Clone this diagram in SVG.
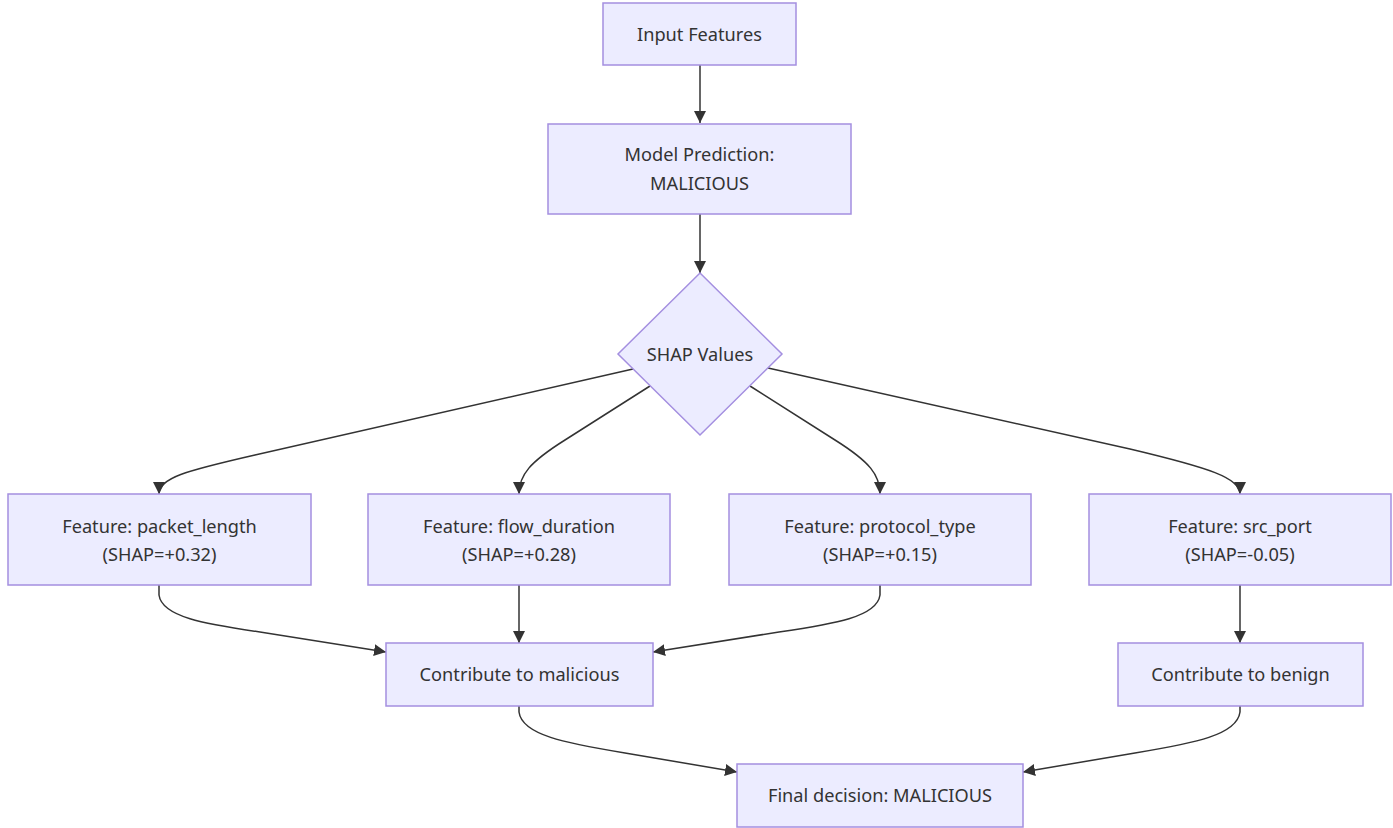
<svg xmlns="http://www.w3.org/2000/svg" width="1393" height="828" viewBox="0 0 1393 828">
  <defs>
    <style>
      .node rect, .node polygon { fill: #ECECFF; stroke: #A48FE0; stroke-width: 1.5; }
      .node text { font-family: "Noto Sans", "DejaVu Sans", sans-serif; font-size: 18.2px; fill: #333333; text-anchor: middle; dominant-baseline: central; }
      .edges path { fill: none; stroke: #333333; stroke-width: 1.5; marker-end: url(#arrow); }
    </style>
    <marker id="arrow" viewBox="0 0 10 10" refX="10" refY="5" markerWidth="8" markerHeight="8" markerUnits="strokeWidth" orient="auto">
      <path d="M0,0 L10,5 L0,10 z" fill="#333333"/>
    </marker>
  </defs>
  <rect width="1393" height="828" fill="#ffffff"/>

  <!-- connectors -->
  <g class="edges">
    <path d="M700,65 L700,123"/>
    <path d="M700,214 L700,273"/>
    <path d="M633,369 L255,455 C185,471 159,478 159,494"/>
    <path d="M650,386 L565,440 C530,462 519,475 519,494"/>
    <path d="M750,386 L835,440 C870,462 880,475 880,494"/>
    <path d="M768,368 L1130,449 C1210,468 1240,478 1240,494"/>
    <path d="M159,585 L159,595 C162,617 205,624 260,632 L386,652"/>
    <path d="M519,585 L519,643"/>
    <path d="M880,585 L880,595 C877,617 834,624 779,632 L653,652"/>
    <path d="M1240,585 L1240,643"/>
    <path d="M519,706 L519,712 C522,735 565,743 625,753 L737,772"/>
    <path d="M1240,706 L1240,712 C1237,735 1195,743 1135,753 L1023,772"/>
  </g>

  <g id="input" class="node">
    <rect x="603" y="3" width="193" height="62"/>
    <text x="699.5" y="34">Input Features</text>
  </g>
  <g id="prediction" class="node">
    <rect x="548" y="124" width="303" height="90"/>
    <text x="699.5" y="154">Model Prediction:</text>
    <text x="699.5" y="183">MALICIOUS</text>
  </g>
  <g id="shap" class="node">
    <polygon points="700,273 782,354 700,435 618,354"/>
    <text x="700" y="354">SHAP Values</text>
  </g>
  <g id="packet_length" class="node">
    <rect x="8" y="494" width="303" height="91"/>
    <text x="159.5" y="526">Feature: packet_length</text>
    <text x="159.5" y="554">(SHAP=+0.32)</text>
  </g>
  <g id="flow_duration" class="node">
    <rect x="368" y="494" width="302" height="91"/>
    <text x="519" y="526">Feature: flow_duration</text>
    <text x="519" y="554">(SHAP=+0.28)</text>
  </g>
  <g id="protocol_type" class="node">
    <rect x="729" y="494" width="302" height="91"/>
    <text x="880" y="526">Feature: protocol_type</text>
    <text x="880" y="554">(SHAP=+0.15)</text>
  </g>
  <g id="src_port" class="node">
    <rect x="1089" y="494" width="302" height="91"/>
    <text x="1240" y="526">Feature: src_port</text>
    <text x="1240" y="554">(SHAP=-0.05)</text>
  </g>
  <g id="malicious" class="node">
    <rect x="386" y="643" width="267" height="63"/>
    <text x="519.5" y="674">Contribute to malicious</text>
  </g>
  <g id="benign" class="node">
    <rect x="1118" y="643" width="245" height="63"/>
    <text x="1240.5" y="674">Contribute to benign</text>
  </g>
  <g id="final" class="node">
    <rect x="737" y="764" width="286" height="63"/>
    <text x="880" y="795">Final decision: MALICIOUS</text>
  </g>
</svg>
